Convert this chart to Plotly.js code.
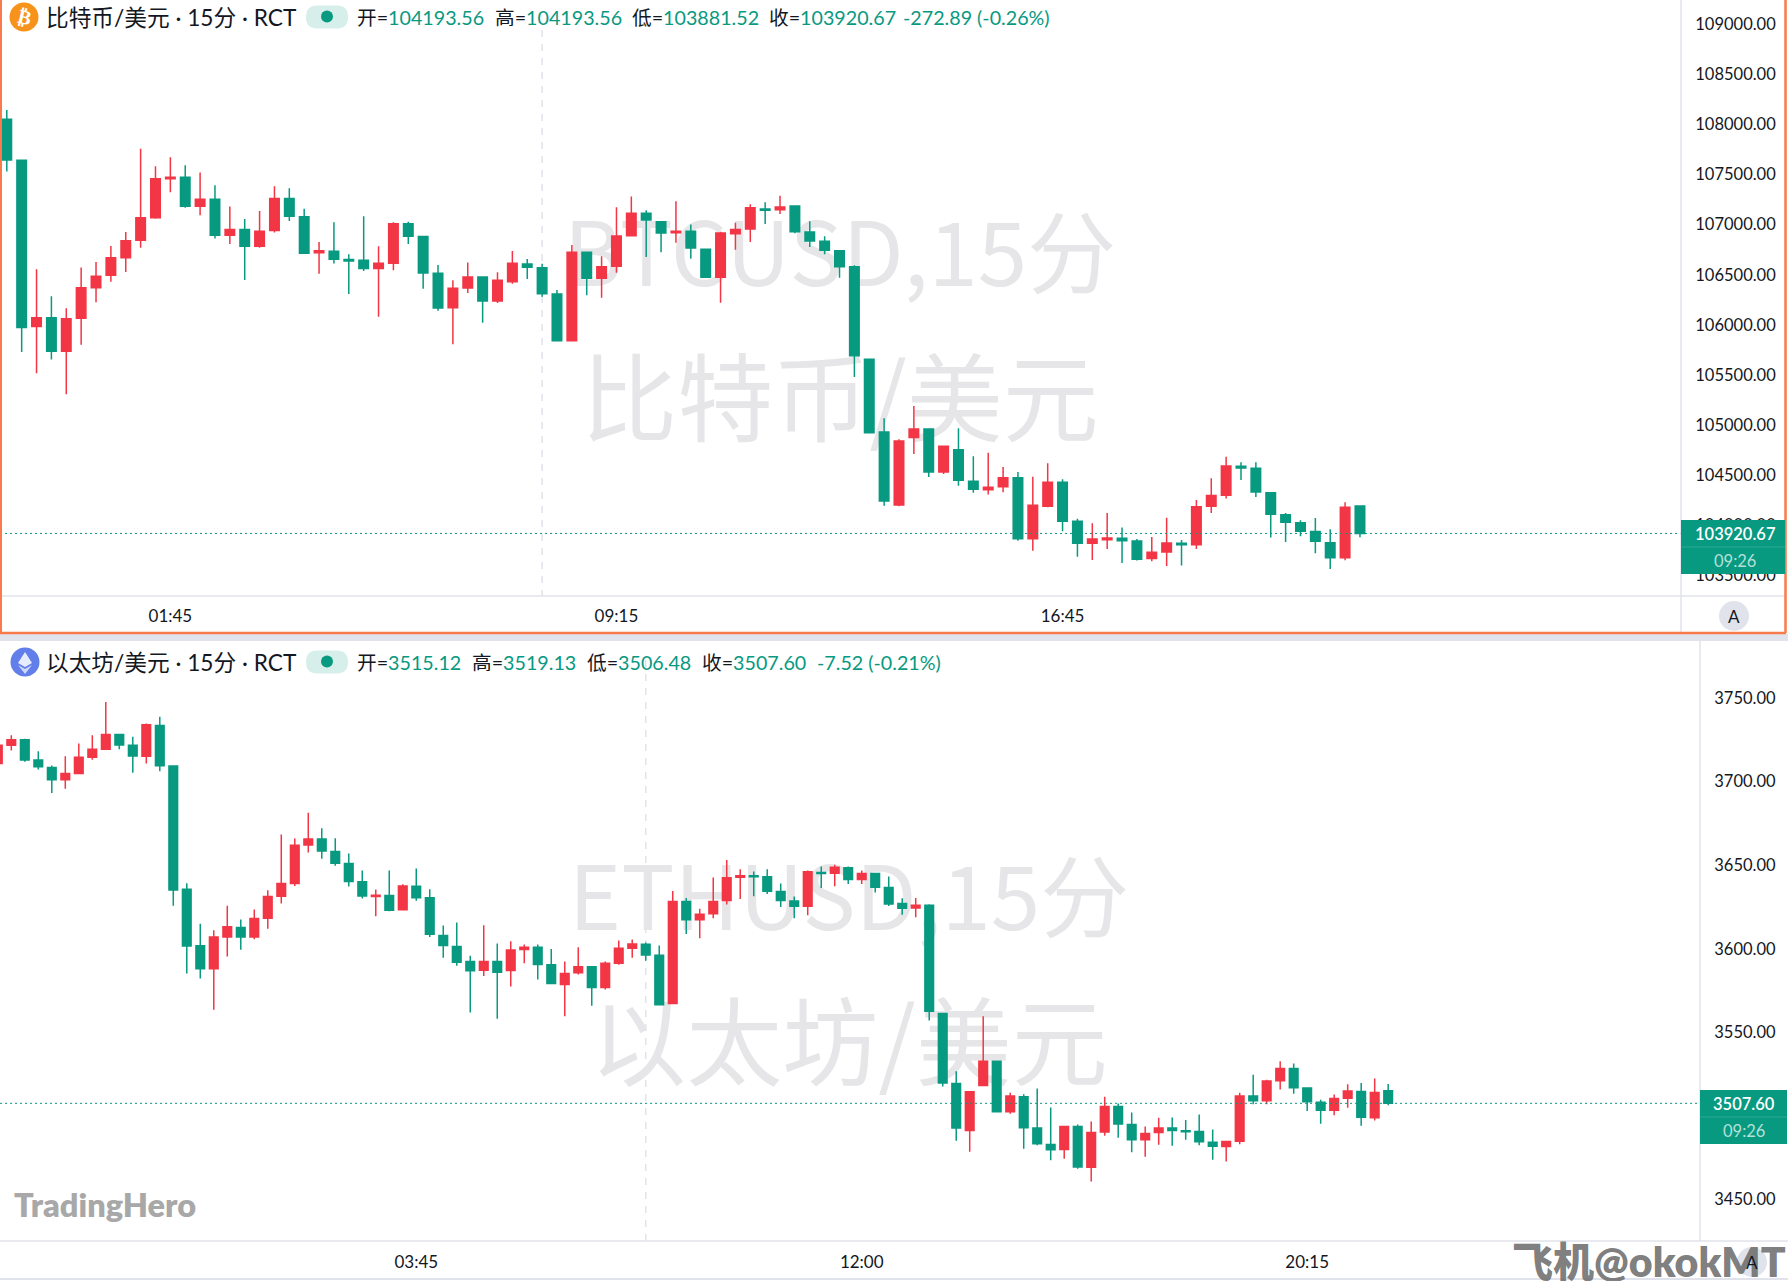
<!DOCTYPE html>
<html><head><meta charset="utf-8">
<script src="https://cdn.plot.ly/plotly-3.0.1.min.js"></script>
<style>html,body{margin:0;padding:0;background:#fff}#c{width:1788px;height:1281px}</style></head>
<body><div id="c"></div>
<script>
const btcOpen=[108050,107641,105983,106072,105737,106066,106371,106494,106670,106843,107069,107458,107471,107182,107252,106893,106950,106783,106940,107259,107079,106720,106734,106651,106644,106561,106614,107009,106880,106514,106172,106368,106477,106238,106431,106607,106570,106308,105843,106723,106464,106584,106889,107112,107029,106919,106933,106753,106474,106909,106956,107155,107149,107185,106926,106833,106740,106580,105657,104932,104205,104876,104962,104534,104756,104440,104357,104387,104477,103869,104191,104430,104042,103822,103859,103872,103846,103670,103736,103822,103809,104191,104301,104590,104570,104327,104108,104028,103939,103829,103679,104193.56];
const btcHigh=[108143,107641,106554,106285,106165,106571,106627,106787,106926,107757,107581,107671,107591,107518,107392,107179,107056,107136,107382,107362,107159,106827,107023,106704,107083,106783,107023,107029,106880,106597,106444,106623,106477,106524,106736,106657,106610,106348,106796,106723,106683,107172,107281,107142,107029,107232,107002,106753,106929,107019,107202,107222,107288,107185,107032,106883,106740,106594,105663,105068,104859,105191,104969,104789,104969,104690,104726,104583,104534,104487,104620,104460,104068,104022,104125,103979,103866,103886,104078,103856,104254,104470,104686,104630,104630,104327,104125,104052,104075,103962,104231,104193.56];
const btcLow=[107528,105730,105517,105654,105308,105803,106225,106431,106528,106770,107059,107322,107169,107093,106860,106807,106448,106770,106920,107036,106710,106511,106611,106308,106538,106082,106544,106807,106361,106142,105806,106318,106022,106218,106411,106457,106281,105843,105843,106295,106271,106520,106889,106677,106723,106820,106660,106471,106221,106750,106826,107006,107105,106913,106776,106703,106471,105480,104925,104198,104191,104713,104484,104514,104397,104327,104308,104331,103849,103749,104181,103942,103689,103656,103766,103626,103650,103643,103596,103600,103766,104125,104268,104454,104284,103879,103836,103892,103723,103567,103653,103881.52];
const btcClose=[107644,105973,106072,105737,106062,106371,106484,106670,106840,107069,107458,107471,107182,107252,106893,106950,106783,106933,107259,107083,106714,106740,106654,106637,106561,106614,107009,106883,106518,106169,106364,106477,106238,106444,106614,106574,106311,105843,106723,106464,106580,106886,107112,107046,106916,106933,106766,106474,106916,106952,107168,107142,107175,106929,106836,106743,106580,105693,104925,104244,104843,104962,104534,104789,104450,104361,104381,104477,103869,104201,104430,104042,103822,103866,103876,103849,103663,103733,103826,103809,104188,104298,104593,104573,104334,104111,104032,103942,103842,103679,104181,103920.67];

const ethOpen=[3710.8,3721.7,3724.9,3712.8,3708.4,3701.0,3704.8,3714.5,3719.3,3728.1,3721.7,3715.1,3733.5,3709.2,3635.6,3601.8,3588.0,3607.1,3612.7,3607.1,3618.3,3631.4,3639.0,3662.1,3665.7,3658.2,3651.0,3640.0,3631.2,3631.8,3623.3,3637.4,3630.5,3607.9,3601.3,3592.4,3587.2,3592.4,3587.0,3599.5,3600.9,3590.4,3578.6,3585.6,3589.2,3576.8,3591.4,3600.3,3602.7,3596.1,3567.3,3628.2,3617.3,3620.9,3628.8,3642.8,3643.6,3643.0,3634.2,3628.6,3625.4,3645.6,3645.2,3648.4,3641.4,3645.0,3636.6,3627.0,3624.4,3626.0,3561.3,3519.5,3491.4,3518.3,3532.8,3502.5,3511.5,3492.8,3483.0,3480.0,3493.8,3469.4,3490.4,3505.7,3495.0,3485.8,3490.2,3492.8,3491.2,3490.8,3484.4,3481.8,3485.0,3512.0,3509.1,3521.1,3528.4,3516.7,3508.3,3503.5,3510.7,3514.7,3499.0,3515.12];
const ethHigh=[3722.5,3727.7,3725.5,3718.1,3709.6,3715.1,3722.7,3727.7,3747.6,3728.1,3726.7,3734.7,3738.7,3709.2,3639.2,3614.9,3611.1,3625.7,3617.5,3623.5,3635.0,3668.3,3665.9,3681.3,3672.1,3666.1,3657.0,3646.8,3635.4,3646.8,3638.6,3648.0,3635.6,3613.9,3615.7,3595.8,3614.1,3603.1,3604.5,3602.5,3602.5,3599.9,3592.4,3600.9,3589.2,3592.4,3604.9,3605.5,3603.7,3601.9,3634.6,3630.4,3624.0,3642.6,3653.1,3647.6,3646.2,3647.6,3639.0,3631.2,3646.8,3649.2,3650.2,3649.2,3646.8,3645.0,3643.2,3630.2,3630.4,3626.6,3561.7,3526.8,3515.0,3559.7,3532.8,3514.0,3513.0,3516.5,3505.1,3494.2,3495.0,3496.7,3511.5,3507.5,3502.1,3493.8,3499.0,3499.1,3497.7,3500.9,3492.0,3484.8,3514.0,3524.7,3521.7,3532.8,3531.4,3516.9,3509.7,3512.9,3519.0,3519.7,3522.4,3519.13];
const ethLow=[3710.0,3718.5,3711.8,3707.2,3693.2,3695.6,3704.8,3713.0,3719.3,3719.3,3705.2,3710.8,3706.2,3625.7,3585.2,3582.2,3563.5,3595.4,3599.4,3605.7,3611.9,3627.1,3637.6,3657.6,3653.8,3649.6,3637.2,3630.1,3619.5,3622.5,3623.3,3628.7,3607.1,3594.6,3589.8,3561.9,3583.8,3558.1,3577.4,3591.4,3581.6,3579.2,3559.7,3584.6,3565.9,3575.6,3590.4,3594.6,3592.8,3566.5,3567.3,3608.9,3606.3,3618.3,3626.4,3629.8,3631.4,3632.8,3625.0,3618.3,3620.1,3636.4,3637.4,3638.8,3638.8,3633.6,3625.6,3620.3,3618.9,3557.1,3517.7,3485.2,3478.6,3518.3,3502.3,3501.3,3480.4,3482.6,3473.6,3474.4,3468.5,3460.9,3488.2,3487.0,3478.4,3475.6,3482.8,3482.2,3485.8,3482.6,3473.8,3472.8,3483.2,3507.0,3507.0,3515.9,3513.3,3503.0,3495.4,3500.5,3504.9,3494.2,3497.4,3506.48];
const ethClose=[3721.7,3724.9,3712.8,3708.8,3701.0,3704.8,3714.5,3719.3,3728.1,3721.9,3715.3,3733.9,3709.4,3635.2,3601.6,3588.0,3607.1,3613.1,3607.1,3618.1,3631.2,3639.0,3661.9,3665.7,3658.4,3651.2,3640.2,3631.6,3632.0,3623.1,3637.6,3630.5,3608.7,3602.0,3592.0,3586.8,3592.4,3586.0,3599.3,3600.9,3590.6,3579.2,3585.2,3589.2,3576.8,3591.4,3600.3,3602.9,3596.3,3566.5,3628.2,3617.3,3620.7,3628.2,3642.4,3643.6,3643.0,3634.4,3628.8,3625.4,3646.0,3645.0,3648.8,3641.4,3645.0,3636.8,3626.8,3624.2,3626.0,3562.7,3519.7,3492.8,3514.5,3532.8,3502.5,3512.0,3493.0,3483.4,3479.8,3493.8,3469.6,3490.2,3505.7,3495.2,3485.8,3489.6,3492.8,3491.4,3490.6,3484.6,3482.0,3484.8,3512.0,3509.1,3520.9,3528.4,3516.9,3508.5,3503.5,3510.5,3515.0,3499.3,3514.1,3507.60];

const btcPriceTicks=[109000,108500,108000,107500,107000,106500,106000,105500,105000,104500,104000,103500];
const ethPriceTicks=[3750,3700,3650,3600,3550,3450];
const btcTimeBars=[11,41,71], btcTimeLabels=["01:45","09:15","16:45"];
const ethTimeBars=[31,64,97], ethTimeLabels=["03:45","12:00","20:15"];
const btcTitle="比特币/美元 · 15分 · RCT", ethTitle="以太坊/美元 · 15分 · RCT";
const btcWatermark=["BTCUSD,15分","比特币/美元"], ethWatermark=["ETHUSD,15分","以太坊/美元"];
const btcLegend=[["开=","104193.56"],["高=","104193.56"],["低=","103881.52"],["收=","103920.67"],["","-272.89 (-0.26%)"]];
const ethLegend=[["开=","3515.12"],["高=","3519.13"],["低=","3506.48"],["收=","3507.60"],["","-7.52 (-0.21%)"]];
const countdown="09:26";

const W=1788,H=1281,UP="#F23645",DN="#089981",GRID="#e0e3eb",ORANGE="#F97A4B",WM="#e6e6e8";
const FONT='Lato, "Noto Sans CJK SC", sans-serif';
const px=x=>x/W, py=y=>1-y/H;
const idx=a=>a.map((_,i)=>i);

function candle(o,h,l,c,xa,ya){return{type:'candlestick',x:idx(o),open:o,high:h,low:l,close:c,xaxis:xa,yaxis:ya,
 whiskerwidth:0,hoverinfo:'skip',showlegend:false,
 increasing:{line:{color:UP,width:1.5},fillcolor:UP},decreasing:{line:{color:DN,width:1.5},fillcolor:DN}};}
function wm(t,ys,xc,xa,ya){return{type:'scatter',mode:'text',x:[xc,xc],y:ys,text:t,xaxis:xa,yaxis:ya,textposition:'middle center',
 textfont:{size:[89,96],color:WM,family:'"Noto Sans CJK SC", sans-serif'},hoverinfo:'skip',showlegend:false,cliponaxis:false};}

const data=[
 wm(btcWatermark,[1-263.5/596,1-410/596],840/1681,'x3','y3'),
 wm(ethWatermark,[1-(908-641)/600,1-(1054-641)/600],849/1700,'x4','y4'),
 candle(btcOpen,btcHigh,btcLow,btcClose,'x','y'),
 candle(ethOpen,ethHigh,ethLow,ethClose,'x2','y2')
];

const lbl={family:FONT,size:16.5,color:'#131722'}, tlbl={family:FONT,size:17,color:'#131722'};
const xb=(range,dom,vals,text,anchor,ov,len)=>({domain:dom,range,anchor,overlaying:ov,tickmode:'array',tickvals:vals,ticktext:text,showgrid:false,zeroline:false,showline:false,
 ticks:'outside',ticklen:len,tickcolor:'rgba(0,0,0,0)',tickfont:tlbl,fixedrange:true,rangeslider:{visible:false}});
const yb=(range,dom,vals,text,anchor,ov)=>({domain:dom,range,anchor,overlaying:ov,side:'right',tickmode:'array',tickvals:vals,ticktext:text,showgrid:false,zeroline:false,showline:false,
 ticks:'outside',ticklen:10,tickcolor:'rgba(0,0,0,0)',tickfont:lbl,fixedrange:true});

const domXT=[0,1681/W],domYT=[py(596),1],domXB=[0,1700/W],domYB=[py(1241),py(641)];
const layout={width:W,height:H,margin:{l:0,r:0,t:0,b:0},paper_bgcolor:'#fff',plot_bgcolor:'rgba(0,0,0,0)',showlegend:false,boxgap:0.36,boxgroupgap:0,
 xaxis3:{domain:domXT,range:[0,1],visible:false,anchor:'y3'},yaxis3:{domain:domYT,range:[0,1],visible:false,anchor:'x3'},
 xaxis4:{domain:domXB,range:[0,1],visible:false,anchor:'y4'},yaxis4:{domain:domYB,range:[0,1],visible:false,anchor:'x4'},
 xaxis:xb([-0.457,112.59],domXT,btcTimeBars,btcTimeLabels,'y','x3',4.5),
 yaxis:yb([103297,109239],domYT,btcPriceTicks,btcPriceTicks.map(v=>v.toFixed(2)),'x','y3'),
 xaxis2:xb([0.163,126.1],domXB,ethTimeBars,ethTimeLabels,'y2','x4',5.5),
 yaxis2:yb([3425.3,3784.0],domYB,ethPriceTicks,ethPriceTicks.map(v=>v.toFixed(2)),'x2','y4'),
 shapes:[],annotations:[]};

const S=layout.shapes,A=layout.annotations;
function rect(x0,y0,x1,y1,fill,layer){S.push({type:'rect',xref:'paper',yref:'paper',x0:px(x0),x1:px(x1),y0:py(y0),y1:py(y1),fillcolor:fill,line:{width:0},layer:layer||'above'});}
function line(x0,y0,x1,y1,c,w,layer){S.push({type:'line',xref:'paper',yref:'paper',x0:px(x0),x1:px(x1),y0:py(y0),y1:py(y1),line:{color:c,width:w||1},layer:layer||'above'});}
function circ(cx,cy,r,fill){S.push({type:'circle',xref:'paper',yref:'paper',x0:px(cx-r),x1:px(cx+r),y0:py(cy-r),y1:py(cy+r),fillcolor:fill,line:{width:0},layer:'above'});}
function poly(pts,fill){S.push({type:'path',xref:'paper',yref:'paper',path:'M'+pts.map(p=>px(p[0])+','+py(p[1])).join('L')+'Z',fillcolor:fill,line:{width:0},layer:'above'});}
function pill(x0,y0,x1,y1,fill){const r=(y1-y0)/2,c=(x,y)=>px(x)+','+py(y);
 S.push({type:'path',xref:'paper',yref:'paper',fillcolor:fill,line:{width:0},layer:'above',
 path:`M${c(x0+r,y0)}L${c(x1-r,y0)}Q${c(x1,y0)} ${c(x1,y0+r)}Q${c(x1,y1)} ${c(x1-r,y1)}L${c(x0+r,y1)}Q${c(x0,y1)} ${c(x0,y0+r)}Q${c(x0,y0)} ${c(x0+r,y0)}Z`});}
function txt(t,x,y,size,color,anchor,extra){A.push(Object.assign({xref:'paper',yref:'paper',x:px(x),y:py(y),text:t,showarrow:false,xanchor:anchor||'left',yanchor:'middle',
 font:{family:FONT,size,color},borderpad:0,captureevents:false},extra||{}));}

S.push({type:'line',xref:'x',yref:'paper',x0:36,x1:36,y0:py(30),y1:py(596),line:{color:GRID,width:1.5,dash:'7px,7px'},layer:'below'});
S.push({type:'line',xref:'x2',yref:'paper',x0:48,x1:48,y0:py(660),y1:py(1241),line:{color:GRID,width:1.5,dash:'7px,7px'},layer:'below'});
S.push({type:'line',xref:'paper',yref:'y',x0:0,x1:px(1681),y0:btcClose[91],y1:btcClose[91],line:{color:DN,width:1,dash:'2px,3px'},layer:'above'});
S.push({type:'line',xref:'paper',yref:'y2',x0:0,x1:px(1700),y0:ethClose[103],y1:ethClose[103],line:{color:DN,width:1,dash:'2px,3px'},layer:'above'});

line(0,596,1785,596,GRID,1.5); line(1681,0,1681,633,GRID,1.5);
line(0,1241,1788,1241,GRID,1.5); line(1700,641,1700,1241,GRID,1.5); line(0,1279,1788,1279,GRID,2);
rect(0,634,1788,641,GRID);
line(1,0,1,633,ORANGE,2); line(0,633,1786,633,ORANGE,2.5); line(1785.5,0,1785.5,633,ORANGE,2.5);

rect(1681,520,1785,574,DN); line(1681,547,1785,547,'#2aa893',1);
rect(1700,1090,1787,1144,DN); line(1700,1117,1787,1117,'#2aa893',1);
const bold={family:FONT,size:16.5,color:'#fff',weight:600};
txt(btcClose[91].toFixed(2),1735,534,16.5,'#fff','center',{font:bold});
txt(countdown,1735,561,16.5,'#b5e0d8','center');
txt(ethClose[103].toFixed(2),1744,1104,16.5,'#fff','center',{font:bold});
txt(countdown,1744,1131,16.5,'#b5e0d8','center');

circ(24,17,14.5,'#F7931A');
txt('₿',24,17,20,'#fff','center',{textangle:14,font:{family:'"DejaVu Sans"',size:20,color:'#fff',weight:700}});
circ(25,662,14.5,'#627EEA');
poly([[25,652],[32,663],[25,667],[18,663]],'rgba(255,255,255,.85)');
poly([[25,669],[32,665],[25,674],[18,665]],'rgba(255,255,255,.7)');

function header(title,leg,xs,y){
 txt(title,45,y,22.7,'#131722');
 pill(306,y-11.5,348,y+11.5,'#d6efea'); circ(327,y-0.5,6,DN);
 leg.forEach((p,i)=>txt((p[0]?`<span style="color:#131722">${p[0]}</span>`:'')+p[1],xs[i],y,19.7,DN));
}
header(btcTitle,btcLegend,[356,494,631,768,902],17);
header(ethTitle,ethLegend,[356,471,586,701,816],662);

circ(1734,616,15,GRID); txt('A',1734,616,17,'#131722','center');
txt('TradingHero',13,1204,32.5,'#a8a8a8','left',{font:{family:'Lato, sans-serif',size:32.5,color:'#a8a8a8',weight:800}});
circ(1752,1262,15,GRID);
txt('飞机@okokMT',1511,1261,41,'rgba(110,110,110,.9)','left',{font:{family:FONT,size:41,color:'rgba(110,110,110,.9)',weight:800}});
txt('A',1752,1262,17,'#131722','center');

Plotly.newPlot('c',data,layout,{displayModeBar:false,staticPlot:true});
</script></body></html>
